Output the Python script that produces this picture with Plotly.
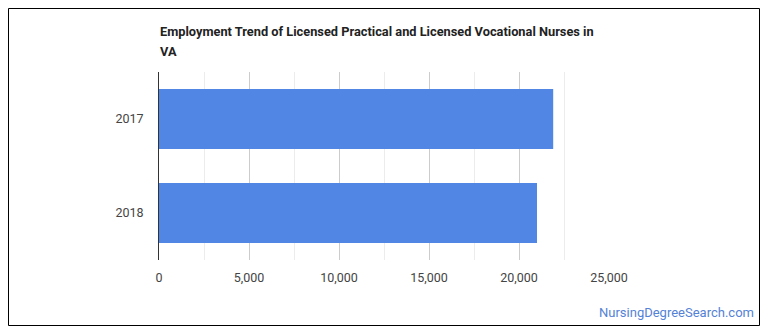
import plotly.graph_objects as go

years = ["2017", "2018"]
employment = [21900, 21000]
x_ticks = [0, 5000, 10000, 15000, 20000, 25000]
x_tick_labels = ["0", "5,000", "10,000", "15,000", "20,000", "25,000"]
title_lines = ["Employment Trend of Licensed Practical and Licensed Vocational Nurses in", "VA"]
watermark = "NursingDegreeSearch.com"

fig = go.Figure(
    go.Bar(
        x=employment,
        y=years,
        orientation="h",
        marker=dict(color="#5186E4", line=dict(width=0)),
        hoverinfo="x+y",
    )
)

font_family = "Roboto, Arial, sans-serif"


def py(pixel_y):
    return (260 - pixel_y) / 188


def px(pixel_x):
    return (pixel_x - 159) / 450


annotations = []
for i, line in enumerate(title_lines):
    annotations.append(
        dict(
            text="<b>" + line + "</b>",
            xref="paper",
            yref="paper",
            x=px(158),
            y=py(32 + 19.5 * i),
            xanchor="left",
            yanchor="middle",
            align="left",
            showarrow=False,
            font=dict(family=font_family, size=12.8, color="#222"),
        )
    )
annotations.append(
    dict(
        text=watermark,
        xref="paper",
        yref="paper",
        x=px(756),
        y=py(312),
        xanchor="right",
        yanchor="middle",
        showarrow=False,
        font=dict(family=font_family, size=13, color="#5482d6"),
    )
)

fig.update_layout(
    width=770,
    height=335,
    margin=dict(l=159, r=161, t=72, b=75),
    paper_bgcolor="white",
    plot_bgcolor="white",
    bargap=0.36,
    showlegend=False,
    font=dict(family=font_family, size=12, color="#444"),
    xaxis=dict(
        range=[0, 25000],
        tickvals=x_ticks,
        ticktext=x_tick_labels,
        showgrid=True,
        gridcolor="#cccccc",
        gridwidth=1,
        zeroline=False,
        showline=False,
        ticks="",
        ticklabelstandoff=8,
        tickfont=dict(size=12.5, color="#444"),
        minor=dict(dtick=2500, showgrid=True, gridcolor="#ececec", gridwidth=1),
        fixedrange=True,
    ),
    yaxis=dict(
        categoryorder="array",
        categoryarray=years,
        autorange="reversed",
        showline=True,
        linecolor="#333333",
        linewidth=1,
        showgrid=False,
        ticks="",
        ticklabelstandoff=12,
        tickfont=dict(size=12.5, color="#444"),
        fixedrange=True,
    ),
    annotations=annotations,
    shapes=[
        dict(
            type="rect",
            xref="paper",
            yref="paper",
            x0=px(8.5),
            x1=px(759.5),
            y0=py(325.5),
            y1=py(8.5),
            line=dict(color="#000000", width=1),
            fillcolor="rgba(0,0,0,0)",
            layer="above",
        )
    ],
)

fig.write_html("out.html", config={"displayModeBar": False})
